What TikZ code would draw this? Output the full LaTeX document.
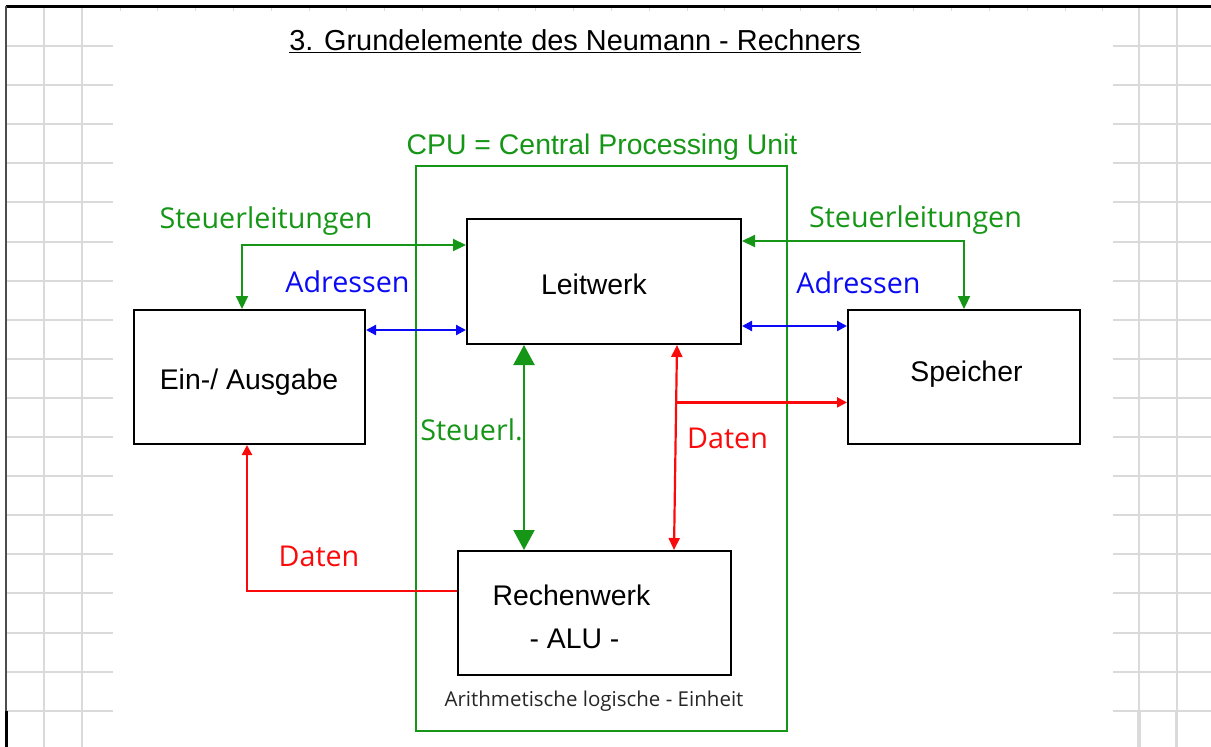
\documentclass[tikz,border=0pt]{standalone}
\usepackage{fontspec}
\setmainfont{Liberation Sans}
\newfontfamily\opensans{Open Sans}
\usetikzlibrary{arrows.meta,calc}

\definecolor{gruen}{RGB}{22,150,22}
\definecolor{rot}{RGB}{250,10,10}
\definecolor{blau}{RGB}{10,10,245}
\definecolor{gitter}{RGB}{218,218,218}

\begin{document}
\begin{tikzpicture}[x=1pt, y=-1pt,
    kasten/.style={draw=black, line width=2pt, inner sep=0pt},
    ktext/.style={anchor=base, inner sep=0pt, font=\fontsize{28.4}{30}\selectfont},
    beschr/.style={anchor=base, inner sep=0pt, font=\opensans\fontsize{28.7}{30}\selectfont},
    gpfeil/.style={draw=gruen, line width=2.2pt, <->, >={Triangle[length=13pt,width=12pt]}},
    bpfeil/.style={draw=blau, line width=2.2pt, <->, >={Triangle[length=10pt,width=10pt]}},
    rpfeil/.style={draw=rot, line width=2.2pt, >={Triangle[length=12pt,width=11pt]}}]

    \useasboundingbox (0,0) rectangle (1211,747);

    % Gitter der Tabelle
    \foreach \i in {0,...,17} {
      \draw[gitter, line width=2pt] (6,{46+39.1*\i}) -- (113,{46+39.1*\i});
      \draw[gitter, line width=2pt] (1113,{46+39.1*\i}) -- (1211,{46+39.1*\i});
    }
    \foreach \x in {44,82,1139,1176.5}
      \draw[gitter, line width=2pt] (\x,6) -- (\x,747);
    \foreach \x in {1139,1176.5}
      \draw[gitter, line width=3.5pt] (\x,711) -- (\x,747);
    \foreach \i in {0,...,26}
      \draw[gitter, line width=1pt] ({120+37.8*\i},8) -- ({120+37.8*\i},11);
    \draw[line width=3pt] (6,6.5) -- (1211,6.5);
    \draw[black!70, line width=2pt] (6,6) -- (6,711);
    \draw[line width=3pt] (6,711) -- (6,747);

    % Titel
    \node[ktext, font=\fontsize{28.9}{30}\selectfont] (titel) at (575,50)
      {3. Grundelemente des Neumann - Rechners};
    \draw[line width=1.5pt] ([yshift=-2.5pt]titel.base west) -- ([yshift=-2.5pt]titel.base east);

    % CPU
    \node[draw=gruen, line width=2pt, inner sep=0pt,
      minimum width=371pt, minimum height=565pt] (cpu) at (601.5,448.5) {};
    \node[beschr, text=gruen, font=\fontsize{28.4}{30}\selectfont] (cpu-txt) at (602,154)
      {CPU = Central Processing Unit};

    % Bausteine
    \node[kasten, minimum width=274pt, minimum height=125pt] (leit) at (604,281.5) {};
    \node[kasten, minimum width=231pt, minimum height=134pt] (ea) at (249.5,377) {};
    \node[kasten, minimum width=232pt, minimum height=134pt] (speicher) at (964,377) {};
    \node[kasten, minimum width=273pt, minimum height=124pt] (rechen) at (594.5,613) {};

    \node[ktext] (leit-txt) at (594,294) {Leitwerk};
    \node[ktext] (ea-txt) at (249,389) {Ein-/ Ausgabe};
    \node[ktext] (speicher-txt) at (966.5,381) {Speicher};
    \node[ktext] (rechen-txt) at (571.5,605) {Rechenwerk};
    \node[ktext] (alu-txt) at (574.5,648) {- ALU -};
    \node[anchor=base, inner sep=0pt, text=black!85,
      font=\opensans\fontsize{20.5}{24}\selectfont] (alu-lang) at (594,706.5)
      {Arithmetische logische - Einheit};

    % Knickpunkte
    \coordinate (k1) at (242,245);
    \coordinate (k2) at (0,330);
    \coordinate (k3) at (964,241);
    \coordinate (k4) at (0,326);
    \coordinate (k5) at (524,0);
    \coordinate (k6) at (247,591);

    % Steuerleitungen
    \draw[gpfeil] (leit.west |- k1) -| (ea.north -| k1);
    \draw[gpfeil] (leit.east |- k3) -| (speicher.north -| k3);
    \draw[gpfeil, >={Triangle[length=20pt,width=21pt]}] (leit.south -| k5) -- (rechen.north -| k5);

    % Adressen
    \draw[bpfeil] (ea.east |- k2) -- (leit.west |- k2);
    \draw[bpfeil] (leit.east |- k4) -- (speicher.west |- k4);

    % Daten
    \draw[rpfeil, <->] ([xshift=73pt]leit.south) coordinate (d1)
      -- ([xshift=79.5pt]rechen.north) coordinate (d2);
    \coordinate (abzw) at ($(d1)!0.28!(d2)$);
    \draw[rpfeil, ->, >={Triangle[length=10pt,width=10pt]}] (abzw) -- (abzw -| speicher.west);
    \draw[rpfeil, ->, >={Triangle[length=10pt,width=10pt]}] (rechen.west |- k6) -| (ea.south -| k6);

    % Beschriftungen
    \node[beschr, text=gruen] (st-links) at (266,228) {Steuerleitungen};
    \node[beschr, text=gruen] (st-rechts) at (915.5,227) {Steuerleitungen};
    \node[beschr, text=blau] (adr-links) at (347.5,292) {Adressen};
    \node[beschr, text=blau] (adr-rechts) at (858.5,293) {Adressen};
    \node[beschr, text=gruen] (st-mitte) at (471.5,440) {Steuerl.};
    \node[beschr, text=rot] (dat-rechts) at (727.5,448) {Daten};
    \node[beschr, text=rot] (dat-links) at (319,566.5) {Daten};

  \end{tikzpicture}
\end{document}
